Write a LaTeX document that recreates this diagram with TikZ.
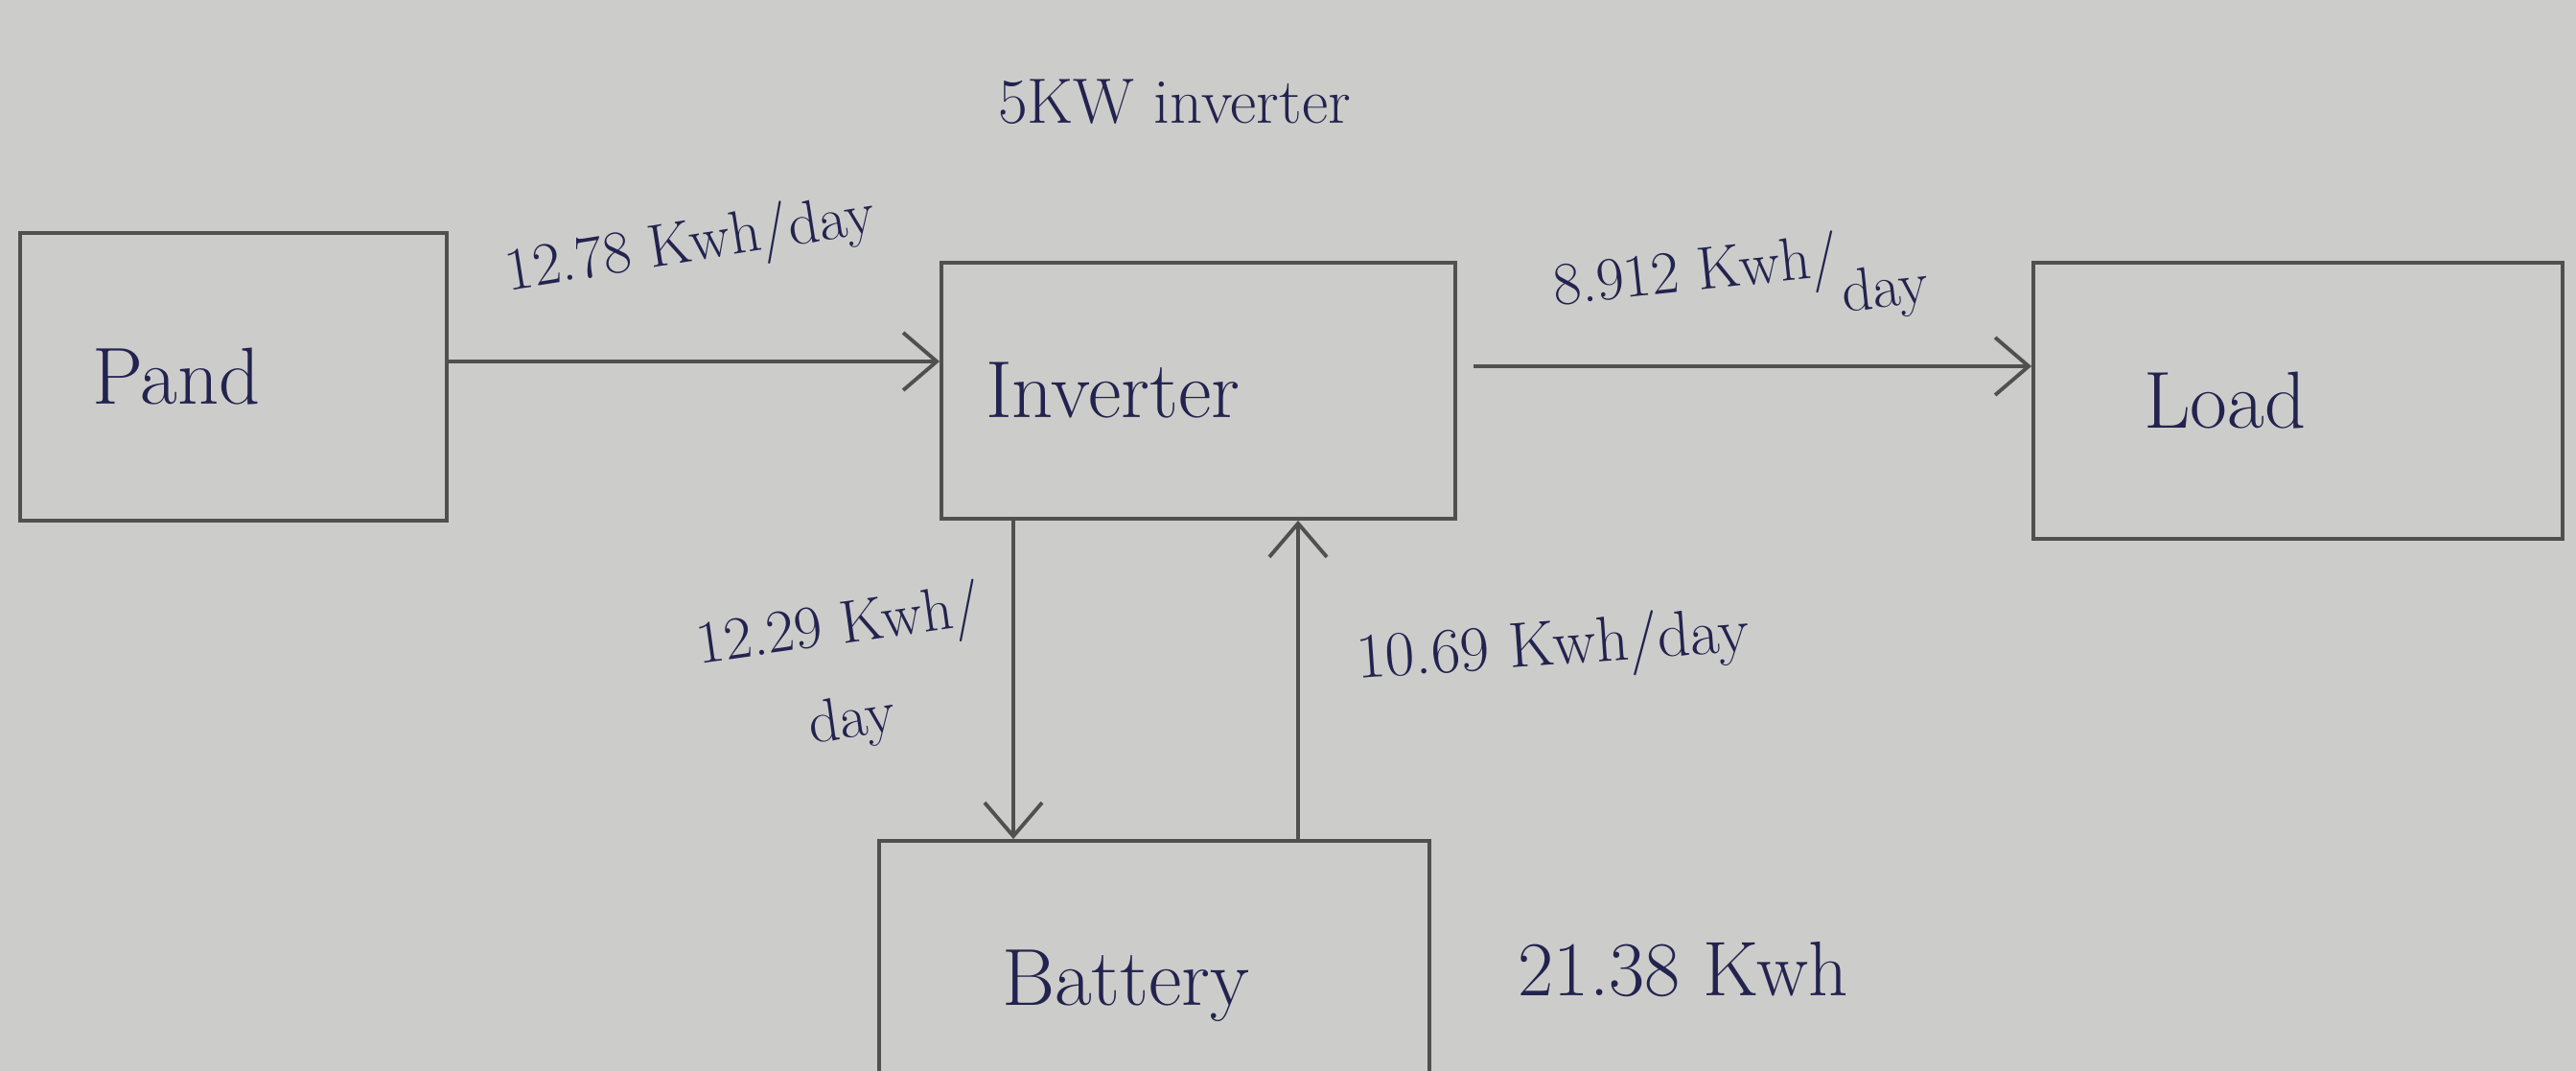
\documentclass[tikz,border=0pt]{standalone}
\usetikzlibrary{positioning,arrows.meta}
\definecolor{paper}{RGB}{204,204,202}
\definecolor{ink}{RGB}{35,35,80}
\definecolor{pencil}{RGB}{80,80,80}
\begin{document}
\begin{tikzpicture}[box/.style={draw=pencil, line width=1.1pt, text=ink, align=left, font=\fontsize{24}{28}\selectfont}, flow/.style={draw=pencil, line width=1.1pt, -{Straight Barb[length=3.5mm,width=6mm]}}, lbl/.style={text=ink, font=\fontsize{18}{22}\selectfont, align=center}]
\fill[paper] (0,0) rectangle (26.87,11.17);
\useasboundingbox (0,0) rectangle (26.87,11.17);
% blocks
\node[box, minimum width=4.45cm, minimum height=3cm, text width=2.95cm] (pand) at (2.435,7.24) {Pand};
\node[box, minimum width=5.36cm, minimum height=2.67cm, text width=4.44cm] (inv) at (12.5,7.095) {Inverter};
\node[box, minimum width=5.52cm, minimum height=2.88cm, text width=3.22cm] (load) at (23.97,6.99) {Load};
\node[box, minimum width=5.74cm, minimum height=3.03cm, text width=3.18cm] (bat) at (12.04,0.885) {Battery};
% flows
\draw[flow] (pand.east |- 0,7.40) -- (inv.west |- 0,7.40);
\draw[flow] ([xshift=0.17cm]inv.east |- 0,7.35) -- (load.west |- 0,7.35);
\draw[flow] (inv.south -| 10.57,0) -- (bat.north -| 10.57,0);
\draw[flow] (bat.north -| 13.54,0) -- (inv.south -| 13.54,0);
% labels
\node[lbl, font=\fontsize{19}{22}\selectfont] (rating) at (12.25,10.11) {5KW inverter};
\node[lbl, rotate=9] (pv) at (7.20,8.60) {12.78 Kwh/day};
\node[lbl, rotate=6] (toload) at (18.16,8.17) {8.912 Kwh/\raisebox{-0.6em}{day}};
\node[lbl, rotate=8, font=\fontsize{18}{28}\selectfont] (charge) at (8.82,4.14) {12.29 Kwh/\\day};
\node[lbl, rotate=4, font=\fontsize{19}{22}\selectfont] (discharge) at (16.20,4.40) {10.69 Kwh/day};
\node[lbl, font=\fontsize{23}{26}\selectfont] (cap) at (17.56,1.06) {21.38 Kwh};
\end{tikzpicture}
\end{document}
